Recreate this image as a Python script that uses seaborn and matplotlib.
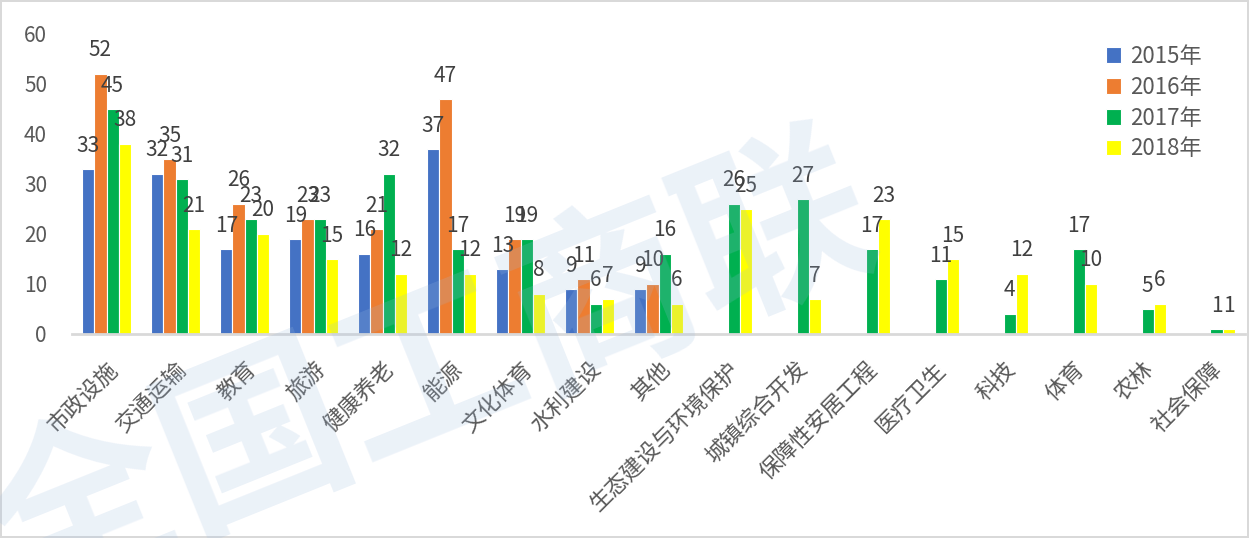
import numpy as np
import pandas as pd
import seaborn as sns
import matplotlib.pyplot as plt

# 各行业项目数量（按年份）
categories = ["市政设施", "交通运输", "教育", "旅游", "健康养老", "能源", "文化体育", "水利建设", "其他",
              "生态建设与环境保护", "城镇综合开发", "保障性安居工程", "医疗卫生", "科技", "体育", "农林", "社会保障"]
years = ["2015年", "2016年", "2017年", "2018年"]
v2015 = [33, 32, 17, 19, 16, 37, 13, 9, 9, np.nan, np.nan, np.nan, np.nan, np.nan, np.nan, np.nan, np.nan]
v2016 = [52, 35, 26, 23, 21, 47, 19, 11, 10, np.nan, np.nan, np.nan, np.nan, np.nan, np.nan, np.nan, np.nan]
v2017 = [45, 31, 23, 23, 32, 17, 19, 6, 16, 26, 27, 17, 11, 4, 17, 5, 1]
v2018 = [38, 21, 20, 15, 12, 12, 8, 7, 6, 25, 7, 23, 15, 12, 10, 6, 1]
colors = ["#4472C4", "#ED7D31", "#00B050", "#FFFF00"]

df = pd.DataFrame({"行业": categories, "2015年": v2015, "2016年": v2016,
                   "2017年": v2017, "2018年": v2018})
df = df.melt(id_vars="行业", var_name="年份", value_name="数量").dropna()

sns.set_theme(style="white")
plt.rcParams["font.family"] = ["Noto Sans CJK SC", "DejaVu Sans"]

fig = plt.figure(figsize=(12.49, 5.38), dpi=100, edgecolor="#d9d9d9", linewidth=1.5)
ax = fig.add_axes([72 / 1249, 1 - 334 / 538, 1173 / 1249, 300 / 538])

sns.barplot(data=df, x="行业", y="数量", hue="年份", order=categories, hue_order=years,
            palette=colors, saturation=1, width=0.7, linewidth=0.8, edgecolor="white", ax=ax)

for c in ax.containers:
    ax.bar_label(c, labels=[f"{h:.0f}" for h in c.datavalues], padding=9,
                 fontsize=15, color="#404040")

ax.set_ylim(0, 60)
ax.set_yticks(range(0, 61, 10))
ax.set_xlim(-0.5, len(categories) - 0.5)
ax.set_xlabel("")
ax.set_ylabel("")
sns.despine(ax=ax, left=True)
ax.spines["bottom"].set_color("#d9d9d9")
ax.spines["bottom"].set_linewidth(2)
ax.tick_params(axis="y", labelsize=15, labelcolor="#595959", pad=18, length=0)
ax.tick_params(axis="x", labelsize=16, labelcolor="#595959", pad=17, length=0)
plt.setp(ax.get_xticklabels(), rotation=45, ha="right", rotation_mode="anchor")

ax.legend(loc="upper right", bbox_to_anchor=((1222 - 72) / 1173, 1.03), frameon=False,
          fontsize=16, handlelength=0.7, handleheight=0.7, handletextpad=0.4,
          labelspacing=0.35, labelcolor="#595959")

# 水印
fig.text(430 / 1249, 1 - 375 / 538, "全国工商联", rotation=22, fontsize=135, fontweight="bold",
         color="#9dbde0", alpha=0.2, ha="center", va="center", zorder=10)

fig.savefig("out.png", dpi=100)
